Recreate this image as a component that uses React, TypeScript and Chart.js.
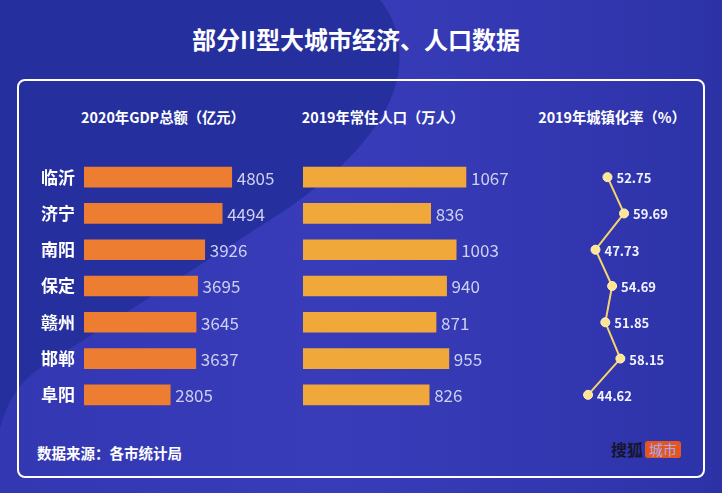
import React, { useEffect, useRef } from 'react';
import { Chart, registerables } from 'chart.js';

Chart.register(...registerables);

const pageTitle = '部分II型大城市经济、人口数据';
const cities = ['临沂', '济宁', '南阳', '保定', '赣州', '邯郸', '阜阳'];
const gdp = [4805, 4494, 3926, 3695, 3645, 3637, 2805];
const population = [1067, 836, 1003, 940, 871, 955, 826];
const urbanization = [52.75, 59.69, 47.73, 54.69, 51.85, 58.15, 44.62];
const headers = ['2020年GDP总额（亿元）', '2019年常住人口（万人）', '2019年城镇化率（%）'];
const sourceText = '数据来源：各市统计局';

const FONT = "'Noto Sans CJK SC', 'Noto Sans', sans-serif";

const valueLabels = (opts: { color: string; size: number; weight: string; gap: number; fmt: (v: number) => string }) => ({
  id: 'valueLabels',
  afterDatasetsDraw(chart: any) {
    const ctx = chart.ctx;
    ctx.save();
    ctx.font = `${opts.weight} ${opts.size}px ${FONT}`;
    ctx.fillStyle = opts.color;
    ctx.textAlign = 'left';
    ctx.textBaseline = 'middle';
    chart.data.datasets.forEach((ds: any, di: number) => {
      const meta = chart.getDatasetMeta(di);
      meta.data.forEach((el: any, i: number) => {
        ctx.fillText(opts.fmt(ds.data[i]), el.x + opts.gap, el.y + 1);
      });
    });
    ctx.restore();
  },
});

function useChart(ref: React.RefObject<HTMLCanvasElement>, make: (c: HTMLCanvasElement) => Chart) {
  useEffect(() => {
    if (!ref.current) return;
    const ch = make(ref.current);
    return () => ch.destroy();
  }, []);
}

export default function App() {
  const c1 = useRef<HTMLCanvasElement>(null);
  const c2 = useRef<HTMLCanvasElement>(null);
  const c3 = useRef<HTMLCanvasElement>(null);

  useChart(c1, (cv) =>
    new Chart(cv, {
      type: 'bar',
      data: {
        labels: cities,
        datasets: [{ data: gdp, backgroundColor: '#ed7d31', barThickness: 20 }],
      },
      options: {
        indexAxis: 'y',
        responsive: false,
        animation: false,
        layout: { padding: 0 },
        plugins: { legend: { display: false }, tooltip: { enabled: false } },
        scales: {
          x: { display: false, min: 0, max: 6700 },
          y: {
            grid: { display: false, drawTicks: false },
            border: { display: false },
            ticks: { color: '#ffffff', padding: 9, font: { family: FONT, size: 17, weight: 'bold' } },
            afterFit: (s: any) => { s.width = 54; s.paddingTop = 0; s.paddingBottom = 0; },
          },
        },
      },
      plugins: [valueLabels({ color: '#cdd0ee', size: 17, weight: 'normal', gap: 5, fmt: (v) => String(v) })],
    } as any)
  );

  useChart(c2, (cv) =>
    new Chart(cv, {
      type: 'bar',
      data: {
        labels: cities,
        datasets: [{ data: population, backgroundColor: '#f1a83b', barThickness: 20 }],
      },
      options: {
        indexAxis: 'y',
        responsive: false,
        animation: false,
        layout: { padding: 0 },
        plugins: { legend: { display: false }, tooltip: { enabled: false } },
        scales: {
          x: { display: false, min: 0, max: 1375 },
          y: { display: false },
        },
      },
      plugins: [valueLabels({ color: '#cdd0ee', size: 17, weight: 'normal', gap: 5, fmt: (v) => String(v) })],
    } as any)
  );

  useChart(c3, (cv) =>
    new Chart(cv, {
      type: 'line',
      data: {
        labels: cities,
        datasets: [{
          data: urbanization,
          borderColor: '#f6d36b',
          borderWidth: 2,
          pointRadius: 4.5,
          pointBackgroundColor: '#fde68f',
          pointBorderColor: '#fff3c4',
          pointBorderWidth: 1,
          tension: 0,
          clip: false,
        }],
      },
      options: {
        indexAxis: 'y',
        responsive: false,
        animation: false,
        layout: { padding: 0, autoPadding: false },
        plugins: { legend: { display: false }, tooltip: { enabled: false } },
        scales: {
          x: { display: false, min: 24.5, max: 87.3 },
          y: { display: false, offset: true },
        },
      },
      plugins: [valueLabels({ color: '#f2f2ff', size: 13, weight: 'bold', gap: 9, fmt: (v) => v.toFixed(2) })],
    } as any)
  );

  const headerCenters = [163, 383, 612];

  return (
    <div style={{ position: 'fixed', left: 0, top: 0, width: 722, height: 493, overflow: 'hidden',
      background: 'linear-gradient(90deg, #3337b2 0%, #383cb9 45%, #3237b0 80%, #2c32a6 100%)', fontFamily: FONT }}>
      <svg width={722} height={493} style={{ position: 'absolute', left: 0, top: 0 }}>
        <path d="M 380 0 C 405 30, 412 85, 365 140 C 345 165, 320 185, 290 207 L 40 368 C 20 382, 8 400, 0 428 L 0 0 Z" fill="#262f9e" />
      </svg>
      <div style={{ position: 'absolute', left: 0, width: 712, top: 24, textAlign: 'center', color: '#fff', fontSize: 24, fontWeight: 'bold', lineHeight: '30px' }}>
        {pageTitle}
      </div>
      <div style={{ position: 'absolute', left: 17, top: 79, width: 688, height: 399, border: '2px solid #fff', borderRadius: 8, boxSizing: 'border-box' }} />
      {headers.map((h, i) => (
        <div key={h} style={{ position: 'absolute', left: headerCenters[i] - 110, width: 220, top: 107, textAlign: 'center', color: '#fff', fontSize: 14.3, fontWeight: 'bold', lineHeight: '20px', whiteSpace: 'nowrap' }}>
          {h}
        </div>
      ))}
      <canvas ref={c1} width={260} height={254} style={{ position: 'absolute', left: 30, top: 159, width: 260, height: 254 }} />
      <canvas ref={c2} width={210} height={254} style={{ position: 'absolute', left: 303, top: 159, width: 210, height: 254 }} />
      <canvas ref={c3} width={150} height={254} style={{ position: 'absolute', left: 540, top: 159, width: 150, height: 254 }} />
      <div style={{ position: 'absolute', left: 37, top: 443, color: '#fff', fontSize: 14.5, fontWeight: 'bold', lineHeight: '20px', whiteSpace: 'nowrap' }}>
        {sourceText}
      </div>
      <div style={{ position: 'absolute', left: 611, top: 440, height: 19, display: 'flex', alignItems: 'center', whiteSpace: 'nowrap' }}>
        <span style={{ color: '#15152e', fontSize: 16, fontWeight: 'bold', lineHeight: '19px' }}>搜狐</span>
        <span style={{ marginLeft: 2, background: '#e5561f', color: '#a8abf5', fontSize: 14, lineHeight: '17px', padding: '0 4px', borderRadius: 3 }}>城市</span>
      </div>
    </div>
  );
}
